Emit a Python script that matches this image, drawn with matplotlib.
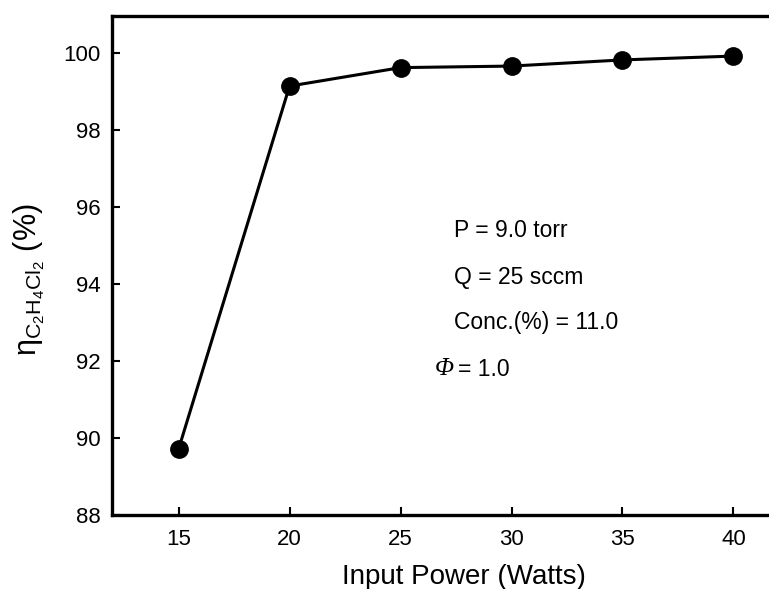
import matplotlib
matplotlib.use('Agg')
import matplotlib.pyplot as plt

plt.rcParams['font.family'] = ['Liberation Sans', 'DejaVu Sans']
plt.rcParams['mathtext.fontset'] = 'custom'
plt.rcParams['mathtext.rm'] = 'Liberation Sans'
plt.rcParams['mathtext.it'] = 'Liberation Sans:italic'

# data
power = [15, 20, 25, 30, 35, 40]
efficiency = [89.71, 99.14, 99.62, 99.66, 99.82, 99.92]
xticks = [15, 20, 25, 30, 35, 40]
yticks = [88, 90, 92, 94, 96, 98, 100]
conditions = ['P = 9.0 torr', 'Q = 25 sccm', 'Conc.(%) = 11.0', '= 1.0']

fig = plt.figure(figsize=(7.69, 5.89), dpi=100)
ax = fig.add_axes([0.1456, 0.1256, 0.8544, 0.8472])

ax.plot(power, efficiency, color='black', linewidth=2.2, marker='o',
        markersize=12.5, markerfacecolor='black', markeredgecolor='black')

ax.set_xlim(12, 41.6)
ax.set_ylim(88, 100.96)
ax.set_xticks(xticks)
ax.set_yticks(yticks)

ax.spines['right'].set_visible(False)
for s in ['left', 'top', 'bottom']:
    ax.spines[s].set_linewidth(2.4)

ax.tick_params(axis='both', direction='in', length=6, width=1.5,
               labelsize=16, pad=10)
ax.tick_params(axis='y', pad=8)

ax.set_xlabel('Input Power (Watts)', fontsize=20, labelpad=10, x=0.536)
ax.set_ylabel(r'η$_{\mathrm{C_2H_4Cl_2}}$ (%)', fontsize=22, labelpad=12, y=0.471)

# condition labels
text_x = [27.39, 27.39, 27.39, 27.61]
text_y = [95.38, 94.18, 93.01, 91.78]
for tx, ty, t in zip(text_x, text_y, conditions):
    ax.text(tx, ty, t, fontsize=16.5, va='center', ha='left')
# italic Phi in front of the last line
ax.text(26.52, 91.80, 'Φ', fontsize=18, va='center', ha='left',
        family='Liberation Serif', fontstyle='italic')

fig.savefig('out.png', dpi=100)
plt.close(fig)
